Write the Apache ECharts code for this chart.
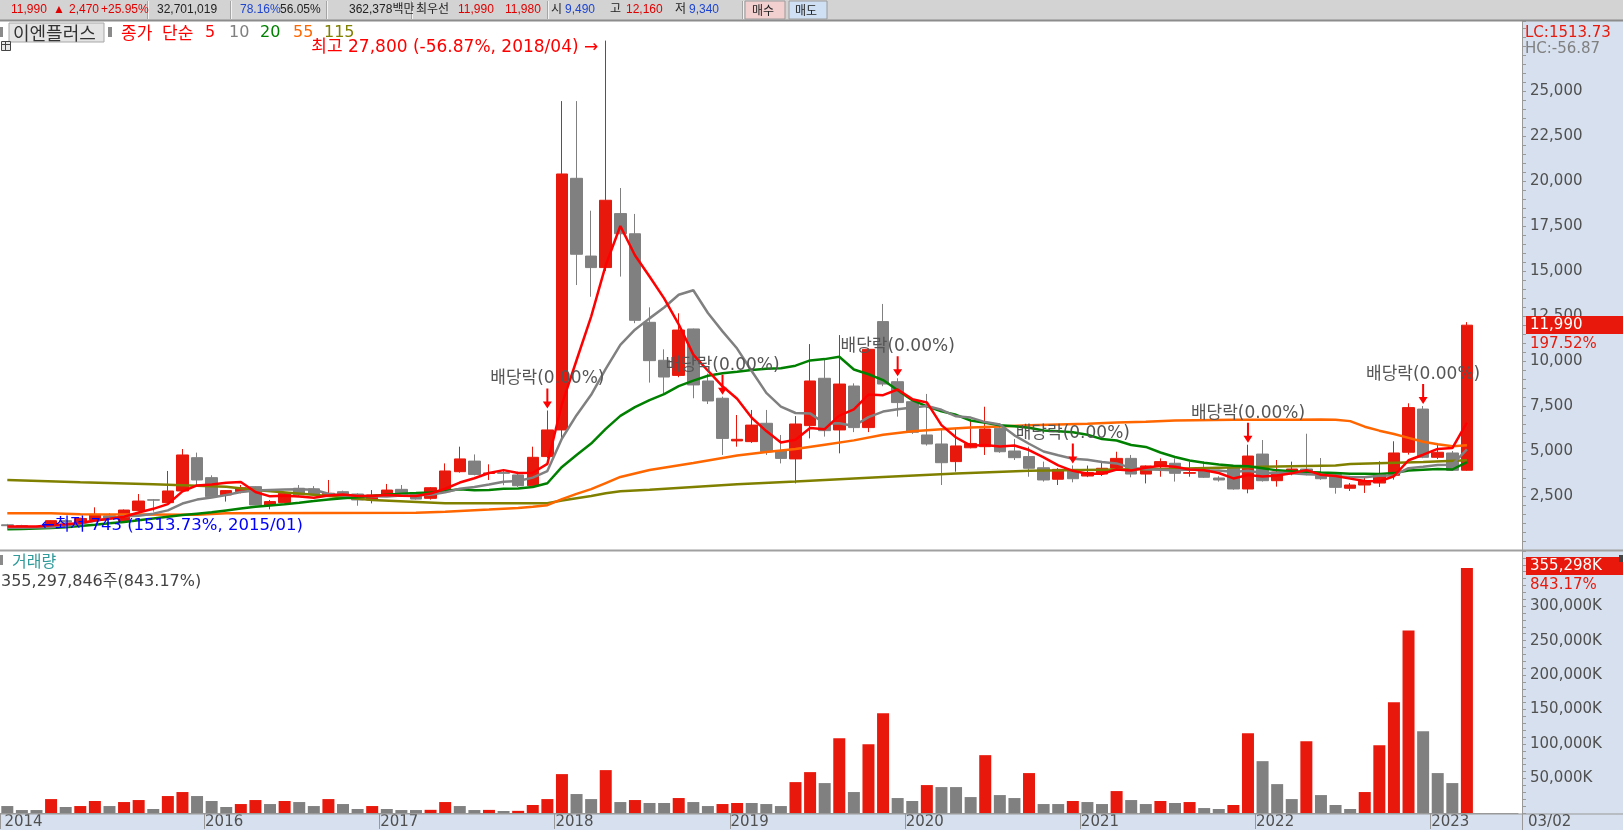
<!DOCTYPE html>
<html>
<head>
<meta charset="utf-8">
<title>이엔플러스 월봉</title>
<script src="https://cdn.jsdelivr.net/npm/echarts@6.0.0/dist/echarts.min.js"></script>
<style>
html, body { margin: 0; padding: 0; background: #fff; }
#stockChart { width: 1623px; height: 830px; }
</style>
</head>
<body>
<div id="stockChart"></div>
<script>
// 월봉 구간 : 2014/11 ~ 2023/03 (101개)
var months = [];
for (var k = 0; k < 101; k++) {
	var m = 10 + k;
	var mm = m % 12 + 1;
	months.push((2014 + Math.floor(m / 12)) + '/' + (mm < 10 ? '0' : '') + mm);
}

var opens = [900, 860, 800, 820, 1130, 1050, 1170, 1400, 1080, 1690,
	2290, 2130, 2780, 4630, 3520, 2560, 2740, 3020, 2000, 2130,
	2930, 2900, 2550, 2740, 2610, 2280, 2610, 2870, 2650, 2370,
	2740, 3850, 4440, 3750, 3800, 3670, 3070, 4690, 6170, 20150,
	15830, 15190, 18190, 17070, 12150, 10040, 9200, 11780, 8890, 7930,
	5560, 5520, 6540, 5000, 4560, 6410, 9040, 6170, 8610, 6300,
	12190, 8850, 7740, 5890, 5390, 4410, 5180, 5240, 6260, 5000,
	4690, 4070, 3430, 3980, 3610, 3720, 4040, 4590, 3720, 4130,
	4320, 3760, 3980, 3500, 4090, 2890, 4830, 3350, 3800, 4000,
	3800, 3690, 2930, 3110, 3220, 3650, 4930, 7330, 4650, 4890,
	3930];
var highs = [950, 900, 850, 1150, 1200, 1300, 1870, 1550, 1750, 2610,
	2330, 3890, 5110, 4910, 3650, 2830, 3110, 3050, 2280, 2700,
	3110, 3050, 3390, 2800, 2650, 2830, 3170, 3110, 2700, 3000,
	4310, 5240, 4810, 4260, 4000, 3850, 5240, 7250, 24440, 24440,
	18350, 27800, 19610, 18170, 12980, 10650, 12650, 11800, 9300, 8020,
	7000, 7280, 7280, 5890, 6940, 10940, 10150, 11440, 8760, 10700,
	13170, 9040, 7800, 8170, 6260, 6260, 6720, 7460, 6540, 5670,
	5240, 4410, 4050, 4200, 4190, 4410, 4960, 4780, 4200, 4590,
	4590, 4410, 4410, 3600, 4150, 5350, 5610, 4500, 4410, 5960,
	4610, 3750, 3220, 3520, 4430, 5540, 7650, 7500, 5410, 5000,
	12160];
var lows = [820, 790, 743, 800, 1000, 1000, 1130, 1200, 1060, 1650,
	1630, 2090, 2750, 3110, 2400, 2190, 2650, 1990, 1760, 2100,
	2500, 2550, 2460, 2400, 1960, 2090, 2550, 2450, 2300, 2300,
	2700, 3800, 3650, 3390, 3100, 3000, 3000, 4600, 5700, 14220,
	13570, 15000, 14690, 12100, 8800, 8130, 9100, 7930, 7610, 4780,
	5240, 5450, 4780, 4310, 3200, 5700, 5800, 4870, 6050, 6050,
	8600, 6910, 5950, 5300, 3110, 3850, 5150, 4780, 4900, 4500,
	3570, 3300, 3110, 3260, 3550, 3610, 3950, 3540, 3200, 3570,
	3300, 3570, 3500, 3300, 2850, 2650, 3300, 3020, 3650, 3650,
	3400, 2630, 2780, 2670, 3000, 3410, 4800, 4600, 4550, 3900,
	3900];
var closes = [850, 800, 790, 1130, 1050, 1250, 1480, 1250, 1720, 2220,
	2270, 2780, 4780, 3390, 2460, 2800, 2960, 2000, 2190, 2650,
	2560, 2600, 2650, 2430, 2280, 2560, 2830, 2500, 2330, 2960,
	3890, 4560, 3700, 3780, 3760, 3070, 4650, 6170, 20390, 15930,
	15190, 18930, 17070, 12260, 10020, 9110, 11720, 8670, 7780, 5700,
	5650, 6440, 4960, 4590, 6500, 8890, 6130, 8720, 6300, 10650,
	8720, 7690, 6040, 5390, 4350, 5280, 5420, 6220, 4960, 4630,
	4040, 3390, 3980, 3460, 3800, 4040, 4590, 3720, 4170, 4410,
	3760, 3800, 3540, 3390, 2890, 4720, 3350, 3830, 4000, 3780,
	3460, 2980, 3110, 3330, 3690, 4890, 7410, 4650, 4930, 3930,
	11990];
// 거래량 (단위 K)
var volumes = [10100, 4300, 4300, 20200, 8700, 10100, 17400, 10100, 15900, 18800,
	5800, 24600, 30400, 24600, 17400, 8700, 13000, 18800, 13000, 17400,
	15900, 10100, 20200, 13000, 5800, 10100, 5800, 4300, 4300, 4600,
	15900, 10100, 4300, 4500, 2900, 3100, 11600, 20200, 56400, 27500,
	20200, 62200, 15900, 18800, 14500, 14500, 21700, 15900, 10100, 13000,
	14500, 14500, 13000, 10100, 44800, 59300, 43400, 108500, 30400, 99800,
	144600, 21700, 17400, 40500, 37600, 37600, 23100, 83900, 26000, 21700,
	57900, 13000, 13000, 17400, 15900, 13000, 31800, 18800, 13000, 17400,
	14500, 15900, 7200, 5800, 11600, 115700, 75200, 41900, 20200, 104100,
	26000, 11600, 5800, 30400, 98300, 160500, 264700, 118600, 57900, 43400,
	355298];
// 이동평균선
var ma5 = [800, 800, 810, 870, 924, 1004, 1140, 1232, 1350, 1584,
	1788, 2048, 2754, 3088, 3136, 3242, 3278, 2722, 2482, 2520,
	2472, 2400, 2530, 2578, 2504, 2504, 2550, 2520, 2500, 2636,
	2902, 3248, 3488, 3778, 3938, 3774, 3792, 4286, 7608, 10042,
	12466, 15322, 17502, 15876, 14694, 13478, 12036, 10356, 9460, 8596,
	7904, 6848, 6106, 5468, 5628, 6276, 6214, 6966, 7308, 8138,
	8104, 8416, 7880, 7698, 6438, 5750, 5296, 5332, 5246, 5302,
	5054, 4648, 4200, 3900, 3734, 3734, 3974, 3922, 4064, 4186,
	4130, 3972, 3936, 3780, 3476, 3668, 3578, 3636, 3758, 3936,
	3684, 3610, 3466, 3332, 3314, 3600, 4486, 4794, 5116, 5162,
	6582];
var ma10 = [740, 740, 745, 760, 830, 950, 1120, 1250, 1380, 1400,
	1520, 1700, 2080, 2300, 2420, 2560, 2720, 2800, 2830, 2860,
	2870, 2850, 2626, 2530, 2512, 2488, 2475, 2525, 2539, 2570,
	2703, 2899, 3004, 3139, 3287, 3338, 3520, 3887, 5693, 6990,
	8120, 9557, 10894, 11742, 12368, 12972, 13679, 13929, 12668, 11645,
	10691, 9442, 8231, 7464, 7112, 7090, 6531, 6536, 6388, 6883,
	7190, 7315, 7423, 7503, 7288, 6927, 6856, 6606, 6472, 5870,
	5402, 4972, 4766, 4573, 4518, 4394, 4311, 4061, 3982, 3960,
	3932, 3973, 3929, 3922, 3831, 3899, 3775, 3786, 3769, 3706,
	3676, 3594, 3551, 3545, 3625, 3642, 4048, 4130, 4223, 4238,
	5091];
var ma20 = [650, 670, 690, 720, 770, 830, 900, 980, 1060, 1150,
	1250, 1350, 1440, 1520, 1600, 1700, 1800, 1900, 1970, 2041,
	2127, 2217, 2310, 2375, 2436, 2502, 2569, 2632, 2662, 2699,
	2780, 2869, 2815, 2835, 2900, 2913, 2998, 3206, 4116, 4780,
	5412, 6228, 6949, 7441, 7828, 8155, 8600, 8908, 9181, 9318,
	9406, 9500, 9563, 9603, 9740, 10031, 10105, 10233, 9528, 9264,
	8941, 8379, 7827, 7484, 7200, 7009, 6694, 6571, 6430, 6377,
	6296, 6144, 6095, 6038, 5903, 5661, 5584, 5334, 5227, 4915,
	4667, 4473, 4348, 4248, 4175, 4147, 4043, 3924, 3876, 3833,
	3804, 3784, 3740, 3734, 3728, 3771, 3912, 3958, 3996, 3972,
	4384];
var ma55Pts = [[0, 1540], [3, 1540], [5, 1480], [13, 1460], [15, 1540], [28, 1570], [30, 1620],
	[33, 1750], [35, 1840], [36, 1900], [37, 1990], [38, 2330], [39, 2620], [40, 2880],
	[41, 3220], [42, 3560], [44, 3940], [47, 4330], [50, 4750], [52, 4950], [54, 5110],
	[56, 5350], [58, 5590], [60, 5900], [62, 6100], [64, 6210], [66, 6310], [68, 6360],
	[70, 6430], [72, 6470], [74, 6510], [76, 6580], [78, 6630], [80, 6690], [84, 6740],
	[88, 6740], [90, 6750], [91, 6740], [92, 6660], [93, 6350], [94, 6130], [95, 5940],
	[96, 5730], [97, 5510], [98, 5380], [99, 5270], [100, 5320]];
var ma115Pts = [[0, 3390], [5, 3260], [10, 3150], [15, 3020], [17, 2830], [22, 2500],
	[25, 2280], [30, 2100], [37, 2100], [38, 2250], [39, 2380], [40, 2500], [41, 2650],
	[42, 2760], [44, 2850], [47, 3000], [50, 3150], [54, 3300], [60, 3550], [65, 3750],
	[70, 3900], [75, 3960], [80, 4020], [86, 4130], [91, 4200], [92, 4280], [97, 4390],
	[100, 4480]];

// 배당락 표시 위치, 연도 눈금
var divIdx = [37, 49, 61, 73, 85, 97];
var yearTickIdx = [0, 14, 26, 38, 50, 62, 74, 86, 98];
var yearLabels = ['2014', '2016', '2017', '2018', '2019', '2020', '2021', '2022', '2023'];

var UP = '#e8190c', DOWN = '#808080', PANEL = '#d6e0ee', AXIS = '#999999', LBL = '#505050';
var NUM_FONT = '"DejaVu Sans", "Noto Sans CJK KR", sans-serif';
var KR_FONT = '"Noto Sans CJK KR", "DejaVu Sans", sans-serif';
var BAR_FONT = '"Liberation Sans", "Noto Sans CJK KR", sans-serif';

// 오른쪽 빈 여백 3칸
var xCats = months.concat(['', '', '']);
var candleData = opens.map(function(o, i) {
	return [o, closes[i], lows[i], highs[i]];
});
// 연도 구분선은 봉 왼쪽 경계
var yearTickPos = yearTickIdx.map(function(i) { return i - 0.5; });
var yearLabelPos = yearTickIdx.map(function(i) { return i === 0 ? -0.2 : i - 0.45; });

function txt(x, y, t, color, size, font, z) {
	return {
		type : 'text', z : z || 60, x : x, y : y,
		style : { text : t, fill : color, fontSize : size, fontFamily : font, verticalAlign : 'middle' }
	};
}

// 상단 시세 바
var toolbar = [
	['11,990', 11, '#e00000'], ['▲', 53, '#e00000'], ['2,470', 69, '#e00000'], ['+25.95%', 101, '#e00000'],
	['32,701,019', 157, '#222'], ['78.16%', 240, '#1f45d0'], ['56.05%', 280, '#222'],
	['362,378백만', 349, '#222'], ['최우선', 416, '#222'], ['11,990', 458, '#e00000'],
	['11,980', 505, '#e00000'], ['시', 551, '#222'], ['9,490', 565, '#1f45d0'],
	['고', 610, '#222'], ['12,160', 626, '#e00000'], ['저', 675, '#222'], ['9,340', 689, '#1f45d0']
];
var graphics = [
	{ type : 'rect', z : -5, shape : { x : 1522, y : 21, width : 101, height : 809 }, style : { fill : PANEL } },
	{ type : 'rect', z : -5, shape : { x : 0, y : 814, width : 1623, height : 16 }, style : { fill : PANEL } },
	{ type : 'rect', z : 50, shape : { x : 0, y : 0, width : 1623, height : 20 }, style : { fill : '#d3d3d3' } },
	{ type : 'line', z : 51, shape : { x1 : 0, y1 : 20.5, x2 : 1623, y2 : 20.5 }, style : { stroke : '#8c8c8c', lineWidth : 2 } },
	{ type : 'line', z : 5, shape : { x1 : 0, y1 : 550.5, x2 : 1623, y2 : 550.5 }, style : { stroke : '#a0a0a0', lineWidth : 2 } },
	{ type : 'line', z : 5, shape : { x1 : 1522.5, y1 : 21, x2 : 1522.5, y2 : 830 }, style : { stroke : AXIS, lineWidth : 1 } },
	{ type : 'line', z : 5, shape : { x1 : 0, y1 : 814, x2 : 1623, y2 : 814 }, style : { stroke : AXIS, lineWidth : 1 } },
	// 매수 / 매도 버튼
	{ type : 'rect', z : 52, shape : { x : 745, y : 1, width : 40, height : 18 }, style : { fill : '#f3d0d0', stroke : '#9a9a9a' } },
	{ type : 'rect', z : 52, shape : { x : 789, y : 1, width : 38, height : 18 }, style : { fill : '#cfe0f4', stroke : '#9a9a9a' } },
	txt(752, 10, '매수', '#222', 12, KR_FONT, 53),
	txt(795, 10, '매도', '#222', 12, KR_FONT, 53),
	// 범례
	{ type : 'rect', z : 60, shape : { x : 0, y : 27, width : 3, height : 10 }, style : { fill : '#8a8a8a' } },
	{ type : 'rect', z : 60, shape : { x : 9, y : 23, width : 95, height : 19 }, style : { fill : '#e4e4e4', stroke : '#a8a8a8' } },
	txt(13, 33, '이엔플러스', '#333', 18, KR_FONT),
	{ type : 'rect', z : 60, shape : { x : 108, y : 27, width : 4, height : 10 }, style : { fill : '#8a8a8a' } },
	txt(121, 33, '종가', '#ff0000', 17, KR_FONT),
	txt(162, 33, '단순', '#ff0000', 17, KR_FONT),
	txt(205, 33, '5', '#ff0000', 16, NUM_FONT),
	txt(229, 33, '10', '#808080', 16, NUM_FONT),
	txt(260, 33, '20', '#008000', 16, NUM_FONT),
	txt(293, 33, '55', '#ff6600', 16, NUM_FONT),
	txt(324, 33, '115', '#808000', 16, NUM_FONT),
	{ type : 'rect', z : 60, shape : { x : 1.5, y : 41.5, width : 9, height : 9 }, style : { fill : '#e8e8e8', stroke : '#444' } },
	{ type : 'line', z : 61, shape : { x1 : 1.5, y1 : 44.5, x2 : 10.5, y2 : 44.5 }, style : { stroke : '#444' } },
	{ type : 'line', z : 61, shape : { x1 : 5.5, y1 : 41.5, x2 : 5.5, y2 : 50.5 }, style : { stroke : '#444' } },
	// 오른쪽 표시
	txt(1525, 33, 'LC:1513.73', UP, 15, NUM_FONT),
	txt(1525, 49, 'HC:-56.87', '#808080', 15, NUM_FONT),
	{ type : 'rect', z : 55, shape : { x : 1526, y : 316, width : 97, height : 18 }, style : { fill : UP } },
	txt(1530, 325, '11,990', '#fff', 15, NUM_FONT),
	txt(1530, 344, '197.52%', UP, 15, NUM_FONT),
	{ type : 'rect', z : 55, shape : { x : 1526, y : 557, width : 97, height : 18 }, style : { fill : UP } },
	{ type : 'rect', z : 56, shape : { x : 1619, y : 555, width : 4, height : 7 }, style : { fill : '#444' } },
	txt(1530, 566, '355,298K', '#fff', 15, NUM_FONT),
	txt(1530, 585, '843.17%', UP, 15, NUM_FONT),
	txt(1528, 822, '03/02', LBL, 15, NUM_FONT),
	// 거래량 범례
	{ type : 'rect', z : 60, shape : { x : 0, y : 555, width : 3, height : 10 }, style : { fill : '#8a8a8a' } },
	txt(12, 561, '거래량', '#2e9a9a', 16, KR_FONT),
	txt(1, 582, '355,297,846주(843.17%)', '#444', 16, NUM_FONT)
];
toolbar.forEach(function(t) {
	graphics.push(txt(t[1], 10, t[0], t[2], 12, BAR_FONT, 53));
});
[147.5, 230.5, 326.5, 411.5, 547.5, 742.5].forEach(function(x) {
	graphics.push({ type : 'line', z : 52, shape : { x1 : x, y1 : 1, x2 : x, y2 : 19 }, style : { stroke : '#a5a5a5' } });
	graphics.push({ type : 'line', z : 52, shape : { x1 : x + 1, y1 : 1, x2 : x + 1, y2 : 19 }, style : { stroke : '#f2f2f2' } });
});

var chart = echarts.init(document.getElementById('stockChart'));
var lineBase = { type : 'line', symbol : 'none', silent : true, z : 3, xAxisIndex : 0, yAxisIndex : 0 };
var hidden = { show : false };

var option = {
	animation : false,
	backgroundColor : '#fff',
	grid : [
		{ left : -4, right : 105, top : 21, height : 520 },
		{ left : -4, right : 105, top : 551, height : 262 }
	],
	xAxis : [ {
		type : 'category', gridIndex : 0, data : xCats, boundaryGap : true, show : false
	}, {
		type : 'category', gridIndex : 1, data : xCats, boundaryGap : true,
		axisLine : { onZero : false, lineStyle : { color : AXIS } },
		axisTick : hidden, axisLabel : hidden
	}, {
		// 연도 눈금/라벨 (봉 번호 기준 값 축)
		type : 'value', gridIndex : 1, position : 'bottom', min : -0.5, max : 103.5,
		axisLine : { show : false, onZero : false }, splitLine : hidden,
		axisTick : { show : true, customValues : yearTickPos, length : 16, lineStyle : { color : AXIS } },
		axisLabel : {
			customValues : yearLabelPos, align : 'left', margin : 2,
			color : LBL, fontSize : 15, fontFamily : NUM_FONT,
			formatter : function(v) {
				var p = yearTickIdx.indexOf(Math.round(v + 0.5));
				return p >= 0 ? yearLabels[p] : '';
			}
		}
	} ],
	yAxis : [ {
		type : 'value', gridIndex : 0, position : 'right', offset : 4,
		min : 0, max : 28889, interval : 2500,
		axisLine : { show : true, onZero : false, lineStyle : { color : AXIS } },
		axisTick : { show : true, length : 4, lineStyle : { color : AXIS } },
		minorTick : { show : true, splitNumber : 5, length : 4, lineStyle : { color : AXIS } },
		splitLine : hidden,
		axisLabel : {
			margin : 8, color : LBL, fontSize : 15, fontFamily : NUM_FONT,
			formatter : function(v) {
				return (v <= 0 || v > 25000) ? '' : v.toLocaleString('en-US');
			}
		}
	}, {
		type : 'value', gridIndex : 1, position : 'right', offset : 4,
		min : 0, max : 380000, interval : 50000,
		axisLine : { show : true, onZero : false, lineStyle : { color : AXIS } },
		axisTick : { show : true, length : 4, lineStyle : { color : AXIS } },
		minorTick : { show : true, splitNumber : 5, length : 4, lineStyle : { color : AXIS } },
		splitLine : hidden,
		axisLabel : {
			margin : 8, color : LBL, fontSize : 15, fontFamily : NUM_FONT,
			formatter : function(v) {
				return (v <= 0 || v > 300000) ? '' : v.toLocaleString('en-US') + 'K';
			}
		}
	} ],
	series : [ {
		name : '이엔플러스', type : 'candlestick', xAxisIndex : 0, yAxisIndex : 0,
		data : candleData, barWidth : 12, z : 2, silent : true,
		itemStyle : { color : UP, color0 : DOWN, borderColor : UP, borderColor0 : DOWN, borderWidth : 1 },
		markPoint : {
			silent : true,
			symbol : 'path://M3.5,0L5.5,0L5.5,13L9,13L4.5,20L0,13L3.5,13Z',
			symbolSize : [9, 20], symbolOffset : [0, -12],
			itemStyle : { color : '#ff0000' },
			label : {
				show : true, position : 'top', distance : 1, formatter : '배당락(0.00%)',
				color : '#555', fontSize : 17, fontFamily : NUM_FONT
			},
			data : divIdx.map(function(i) {
				return { coord : [i, highs[i]] };
			}).concat([ {
				coord : [41, 27800], symbol : 'circle', symbolSize : 1, symbolOffset : [0, 0],
				itemStyle : { color : 'rgba(0,0,0,0)' },
				label : { position : 'left', distance : 7, offset : [0, 7], color : '#ff0000',
					formatter : '최고 27,800 (-56.87%, 2018/04) →' }
			}, {
				coord : [2, 743], symbol : 'circle', symbolSize : 1, symbolOffset : [0, 0],
				itemStyle : { color : 'rgba(0,0,0,0)' },
				label : { position : 'right', distance : 4, offset : [0, -2], color : '#0000ff', fontSize : 16.5,
					formatter : '←최저 743 (1513.73%, 2015/01)' }
			} ])
		}
	},
	Object.assign({ name : 'MA115', data : ma115Pts, lineStyle : { color : '#808000', width : 2.5 } }, lineBase),
	Object.assign({ name : 'MA55', data : ma55Pts, lineStyle : { color : '#ff6600', width : 2.5 } }, lineBase),
	Object.assign({ name : 'MA20', data : ma20, lineStyle : { color : '#008000', width : 2.5 } }, lineBase),
	Object.assign({ name : 'MA10', data : ma10, lineStyle : { color : '#808080', width : 2.5 } }, lineBase),
	Object.assign({ name : 'MA5', data : ma5, lineStyle : { color : '#ff0000', width : 2.5 } }, lineBase),
	{
		name : '거래량', type : 'bar', xAxisIndex : 1, yAxisIndex : 1,
		data : volumes, barWidth : 12, silent : true,
		itemStyle : {
			// 전월 대비 거래량 증가 = 빨강
			color : function(p) {
				var i = p.dataIndex;
				return (i > 0 && volumes[i] > volumes[i - 1]) ? UP : DOWN;
			}
		}
	} ],
	graphic : graphics
};
chart.setOption(option);
</script>
</body>
</html>
